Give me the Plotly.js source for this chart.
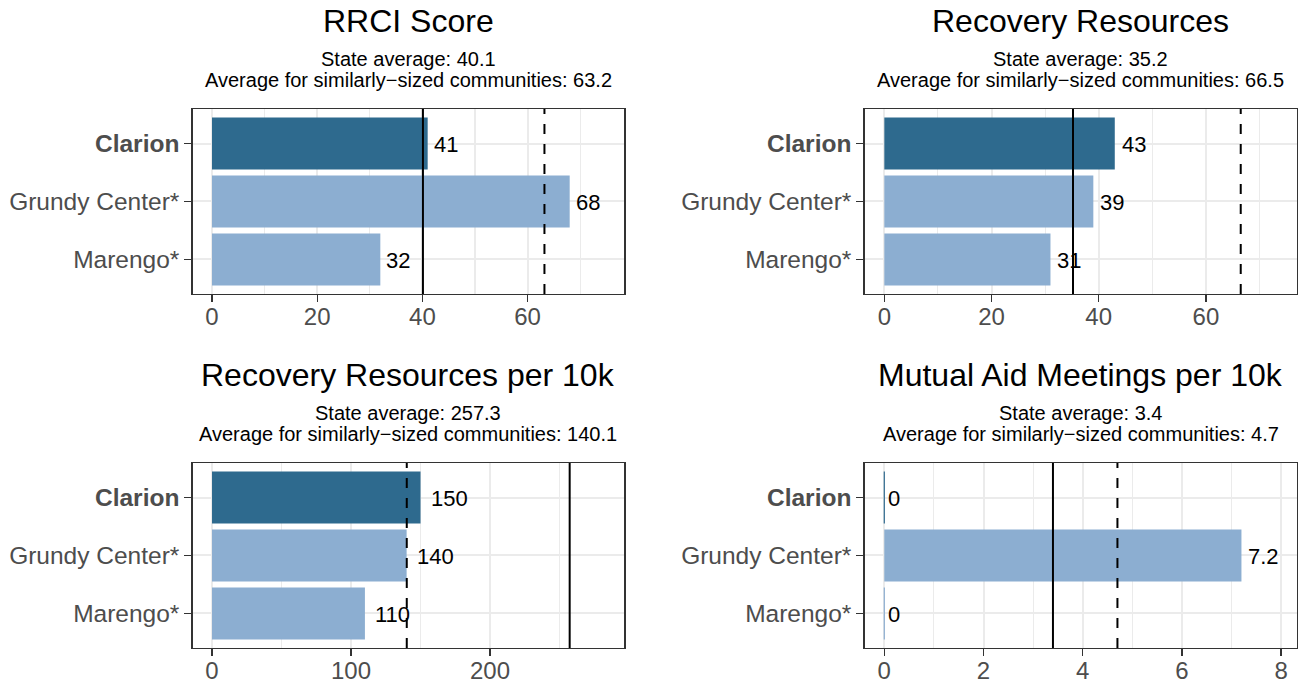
<!DOCTYPE html>
<html>
<head>
<meta charset="utf-8">
<script src="https://cdn.plot.ly/plotly-3.0.1.min.js"></script>
<style>html,body{margin:0;padding:0;background:#fff;}#chart{width:1299px;height:683px;}</style>
</head>
<body>
<div id="chart"></div>
<script>
// ---------- data ----------
const categories = ['Clarion', 'Grundy Center*', 'Marengo*'];
const highlighted = 'Clarion';
const panelTitles = ['RRCI Score', 'Recovery Resources', 'Recovery Resources per 10k', 'Mutual Aid Meetings per 10k'];
const rrciScore = [41, 68, 32];
const recoveryResources = [43, 39, 31];
const resourcesPer10k = [150, 140, 110];
const mutualAidPer10k = [0, 7.2, 0];
const stateAverage = [40.1, 35.2, 257.3, 3.4];
const similarAverage = [63.2, 66.5, 140.1, 4.7];
const seriesList = [rrciScore, recoveryResources, resourcesPer10k, mutualAidPer10k];

// ---------- style ----------
const FONT = 'Liberation Sans, Arial, Helvetica, sans-serif';
const darkBar = 'rgb(46,106,142)';
const lightBar = 'rgb(140,174,209)';
const gridCol = '#EBEBEB';
const frameCol = '#333333';
const style = {
  xDomains: [[0.14834, 0.48060], [0.66567, 0.99846], [0.14834, 0.48060], [0.66567, 0.99846]],
  yDomains: [[0.56955, 0.84041], [0.56955, 0.84041], [0.05124, 0.32211], [0.05124, 0.32211]],
  xRanges: [[-3.67, 78.38], [-3.66, 77.0], [-13.9, 296.6], [-0.395, 8.32]],
  dticks: [20, 20, 100, 2],
  labelShift: [[4, 4, 4], [5, 5, 5], [8, 8, 8], [1.5, 5, 1.5]],
  titleShift: 68, sub1Shift: 36.5, sub2Shift: 16
};

const catOrder = categories.slice().reverse();
const data = [];
const annotations = [];
const shapes = [];
const layout = {
  width: 1299, height: 683,
  margin: {l: 0, r: 0, t: 0, b: 0},
  paper_bgcolor: '#fff', plot_bgcolor: '#fff',
  showlegend: false,
  font: {family: FONT},
  bargap: 0.1
};

seriesList.forEach((vals, i) => {
  const n = i + 1;
  const xa = 'x' + (n === 1 ? '' : n);
  const ya = 'y' + (n === 1 ? '' : n);
  const colors = categories.map(c => c === highlighted ? darkBar : lightBar);
  data.push({
    type: 'bar', orientation: 'h',
    x: vals, y: categories,
    xaxis: xa, yaxis: ya,
    width: 0.9,
    marker: {color: colors, line: {width: 0}},
    hoverinfo: 'x+y'
  });
  const dt = style.dticks[i];
  layout['xaxis' + (n === 1 ? '' : n)] = {
    domain: style.xDomains[i], anchor: ya,
    range: style.xRanges[i], tickmode: 'linear', tick0: 0, dtick: dt,
    showgrid: true, gridcolor: gridCol, gridwidth: 2,
    minor: {dtick: dt / 2, tick0: 0, showgrid: true, gridcolor: gridCol, gridwidth: 1.1, ticks: ''},
    zeroline: false,
    showline: true, mirror: true, linecolor: frameCol, linewidth: 1.4,
    ticks: 'outside', ticklen: 7, tickwidth: 1.3, tickcolor: frameCol,
    ticklabelstandoff: -6,
    tickfont: {family: FONT, size: 24, color: '#4D4D4D'},
    fixedrange: true
  };
  layout['yaxis' + (n === 1 ? '' : n)] = {
    domain: style.yDomains[i], anchor: xa,
    type: 'category', categoryorder: 'array', categoryarray: catOrder,
    range: [-0.595, 2.595],
    tickmode: 'array', tickvals: categories,
    ticktext: categories.map(c => c === highlighted ? '<b>' + c + '</b>' : c),
    showgrid: true, gridcolor: gridCol, gridwidth: 2,
    zeroline: false,
    showline: true, mirror: true, linecolor: frameCol, linewidth: 1.4,
    ticks: 'outside', ticklen: 7, tickwidth: 1.3, tickcolor: frameCol,
    tickfont: {family: FONT, size: 24.5, color: '#4D4D4D'},
    fixedrange: true
  };
  // zero-length bars drawn as hairlines
  vals.forEach((v, k) => {
    if (v === 0) {
      const pos = catOrder.indexOf(categories[k]);
      shapes.push({type: 'line', xref: xa, yref: ya, x0: v, x1: v, y0: pos - 0.45, y1: pos + 0.45,
        layer: 'above', line: {color: colors[k], width: 1.2}});
    }
  });
  // reference lines
  shapes.push({type: 'line', xref: xa, yref: ya + ' domain', x0: stateAverage[i], x1: stateAverage[i], y0: 0, y1: 1,
    line: {color: '#000', width: 2}});
  shapes.push({type: 'line', xref: xa, yref: ya + ' domain', x0: similarAverage[i], x1: similarAverage[i], y0: 0, y1: 1,
    line: {color: '#000', width: 2, dash: '10px,10px'}});
  // value labels
  vals.forEach((v, k) => {
    annotations.push({xref: xa, yref: ya, x: v, y: categories[k], text: String(v),
      xanchor: 'left', yanchor: 'middle', showarrow: false, xshift: style.labelShift[i][k], yshift: -1,
      font: {family: FONT, size: 22, color: '#000'}});
  });
  // titles
  const cx = (style.xDomains[i][0] + style.xDomains[i][1]) / 2;
  const top = style.yDomains[i][1];
  annotations.push({xref: 'paper', yref: 'paper', x: cx, y: top, text: panelTitles[i],
    xanchor: 'center', yanchor: 'bottom', yshift: style.titleShift, showarrow: false,
    font: {family: FONT, size: 32, color: '#000'}});
  annotations.push({xref: 'paper', yref: 'paper', x: cx, y: top, text: 'State average: ' + stateAverage[i],
    xanchor: 'center', yanchor: 'bottom', yshift: style.sub1Shift, showarrow: false,
    font: {family: FONT, size: 20, color: '#000'}});
  annotations.push({xref: 'paper', yref: 'paper', x: cx, y: top,
    text: 'Average for similarly\u2212sized communities: ' + similarAverage[i],
    xanchor: 'center', yanchor: 'bottom', yshift: style.sub2Shift, showarrow: false,
    font: {family: FONT, size: 20, color: '#000'}});
});

layout.shapes = shapes;
layout.annotations = annotations;
Plotly.newPlot('chart', data, layout, {displayModeBar: false, staticPlot: true});
</script>
</body>
</html>
